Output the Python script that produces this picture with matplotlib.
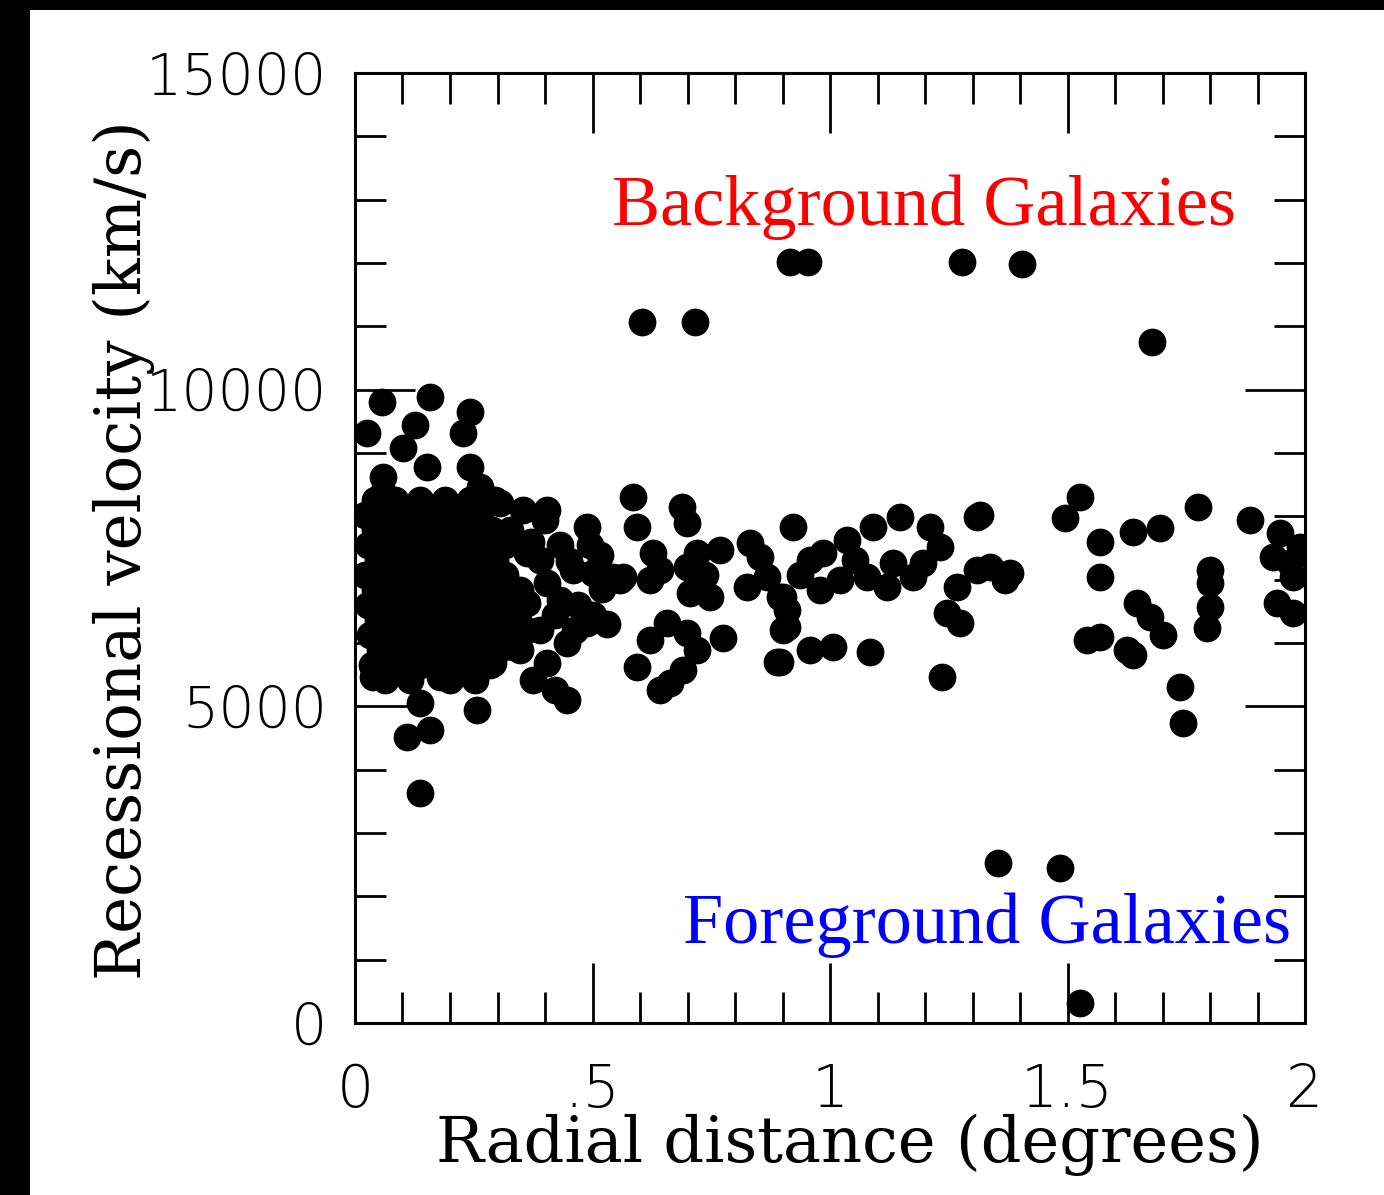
import matplotlib
matplotlib.use("Agg")
import matplotlib.pyplot as plt
from matplotlib.patches import Rectangle
import numpy as np

# ---- data: (radial distance [deg], recessional velocity [km/s]) ----
core = [
    (0.042, 8260), (0.084, 8260), (0.137, 8260), (0.189, 8260), (0.242, 8260), (0.295, 8260),
    (0.021, 8020), (0.063, 8020), (0.116, 8020), (0.162, 8020), (0.217, 8020), (0.263, 8020),
    (0.042, 7780), (0.091, 7780), (0.137, 7780), (0.189, 7780), (0.242, 7780), (0.288, 7780),
    (0.027, 7550), (0.069, 7550), (0.116, 7550), (0.168, 7550), (0.217, 7550), (0.267, 7550), (0.316, 7550),
    (0.048, 7310), (0.095, 7310), (0.141, 7310), (0.196, 7310), (0.242, 7310), (0.295, 7310),
    (0.021, 7070), (0.069, 7070), (0.116, 7070), (0.164, 7070), (0.217, 7070), (0.263, 7070), (0.316, 7070),
    (0.042, 6840), (0.091, 6840), (0.137, 6840), (0.189, 6840), (0.238, 6840), (0.284, 6840), (0.337, 6840),
    (0.027, 6600), (0.074, 6600), (0.120, 6600), (0.168, 6600), (0.221, 6600), (0.267, 6600), (0.316, 6600),
    (0.048, 6360), (0.095, 6360), (0.147, 6360), (0.196, 6360), (0.242, 6360), (0.295, 6360), (0.343, 6360),
    (0.032, 6130), (0.078, 6130), (0.126, 6130), (0.175, 6130), (0.225, 6130), (0.274, 6130), (0.322, 6130),
    (0.053, 5890), (0.099, 5890), (0.147, 5890), (0.200, 5890), (0.253, 5890), (0.301, 5890),
    (0.036, 5650), (0.084, 5650), (0.137, 5650), (0.189, 5650), (0.238, 5650), (0.284, 5650),
    (0.063, 5420), (0.116, 5420), (0.200, 5420), (0.253, 5420),
]

inner = [
    (0.057, 9805), (0.158, 9884), (0.025, 9316), (0.126, 9442), (0.242, 9648),
    (0.227, 9316), (0.101, 9079), (0.059, 8621), (0.152, 8779), (0.242, 8779),
    (0.263, 8463), (0.059, 8369),
    (0.305, 8211), (0.354, 8100), (0.404, 8100), (0.400, 7942), (0.488, 7832),
    (0.543, 7042), (0.585, 8305), (0.594, 7832), (0.459, 7153), (0.362, 7421),
    (0.404, 6948), (0.362, 6632), (0.326, 7784), (0.432, 7548), (0.516, 7390),
    (0.495, 7548), (0.316, 6995), (0.347, 6837), (0.389, 7311), (0.432, 6679),
    (0.558, 6995), (0.305, 6363),
    (0.370, 7600), (0.450, 7300), (0.500, 7100), (0.520, 6850), (0.470, 6600),
    (0.420, 6450), (0.360, 6200), (0.330, 6500), (0.500, 6450), (0.530, 6300),
    (0.488, 6316), (0.446, 6000), (0.404, 5684), (0.375, 5416), (0.446, 5100),
    (0.333, 5937), (0.421, 5258), (0.347, 5890), (0.291, 5684), (0.389, 6206),
    (0.463, 6206),
    (0.257, 4942), (0.137, 5053), (0.109, 4516), (0.158, 4626), (0.137, 3632),
    (0.038, 5463), (0.095, 5684), (0.179, 5463), (0.221, 5574),
]

middle = [
    (0.688, 8147), (0.699, 7895), (0.564, 7042), (0.627, 7421), (0.621, 6995),
    (0.699, 7200), (0.720, 7421), (0.747, 6726), (0.705, 6790), (0.768, 7469),
    (0.832, 7579), (0.853, 7358), (0.825, 6884), (0.867, 7042), (0.895, 6726),
    (0.909, 6521), (0.901, 6206), (0.922, 7832), (0.775, 6079), (0.888, 5700),
    (0.657, 6316), (0.699, 6158), (0.621, 6048), (0.720, 5890), (0.594, 5621),
    (0.663, 5369), (0.642, 5258), (0.691, 5574), (0.642, 7153), (0.737, 7074),
    (0.985, 7421), (1.036, 7626), (1.091, 7832), (1.147, 7990), (1.211, 7832),
    (1.232, 7516), (1.196, 7263), (1.133, 7263), (1.078, 7042), (1.021, 6995),
    (1.267, 6884), (1.175, 7042), (1.120, 6884), (1.246, 6474), (1.274, 6316),
    (1.309, 7990), (1.309, 7153), (1.084, 5858), (1.236, 5463), (1.006, 5937),
    (0.958, 5890), (0.895, 5700), (0.909, 6253), (0.901, 6726), (0.958, 7311),
    (0.937, 7074), (1.053, 7311), (0.979, 6837),
]

outer = [
    (1.316, 8021), (1.526, 8305), (1.495, 7974), (1.568, 7595), (1.638, 7753),
    (1.695, 7816), (1.775, 8147), (1.884, 7942), (1.947, 7737), (1.933, 7358),
    (1.968, 7263), (1.989, 7516), (1.975, 7042), (1.941, 6632), (1.975, 6474),
    (1.337, 7200), (1.379, 7105), (1.368, 6995), (1.568, 7042), (1.646, 6632),
    (1.674, 6411), (1.701, 6127), (1.541, 6048), (1.625, 5890), (1.638, 5811),
    (1.800, 7153), (1.800, 6948), (1.800, 6569), (1.794, 6237), (1.737, 5305),
    (1.743, 4737), (1.568, 6095),
]

background = [
    (0.604, 11069), (0.716, 11069), (0.916, 12016), (0.954, 12016),
    (1.278, 12016), (1.404, 11984), (1.678, 10753),
]

foreground = [(1.354, 2526), (1.484, 2447), (1.526, 316)]

x_ticks = [0, 0.5, 1, 1.5, 2]
x_ticklabels = ["0", ".5", "1", "1.5", "2"]
y_ticks = [0, 5000, 10000, 15000]
y_ticklabels = ["0", "5000", "10000", "15000"]

# ---- figure ----
W, H, DPI = 1384, 1195, 100
fig = plt.figure(figsize=(W / DPI, H / DPI), dpi=DPI, facecolor="white")
ax = fig.add_axes([355 / W, 1 - 1023 / H, 950 / W, 950 / H])

for group in (core, inner, middle, outer, background, foreground):
    gx, gv = zip(*group)
    ax.scatter(gx, gv, s=400, c="black", marker="o", linewidths=0, zorder=3)

ax.set_xlim(0, 2)
ax.set_ylim(0, 15000)

ax.set_xticks(x_ticks)
ax.set_xticklabels(x_ticklabels)
ax.set_yticks(y_ticks)
ax.set_yticklabels(y_ticklabels)
ax.set_xticks(np.arange(0, 2.01, 0.1), minor=True)
ax.set_yticks(np.arange(0, 15001, 1000), minor=True)

ax.tick_params(which="both", direction="in", top=True, right=True, width=2, color="black")
ax.tick_params(which="major", length=43)
ax.tick_params(which="minor", length=22)
ax.tick_params(axis="x", which="major", pad=28, labelsize=42)
ax.tick_params(axis="y", which="major", pad=20, labelsize=41)
for lbl in ax.get_xticklabels() + ax.get_yticklabels():
    lbl.set_fontfamily("DejaVu Sans")
    lbl.set_fontweight("light")

for sp in ax.spines.values():
    sp.set_linewidth(2.2)

ax.text(1.198, 12885, "Background Galaxies", color="#ff0000", fontsize=52,
        family="Liberation Serif", ha="center", va="center", zorder=4)
ax.text(1.331, 1547, "Foreground Galaxies", color="#0000ff", fontsize=52,
        family="Liberation Serif", ha="center", va="center", zorder=4)

fig.text(850 / W, 1 - 1145 / H, "Radial distance (degrees)", fontsize=46,
         family="DejaVu Serif", ha="center", va="center")
fig.text(124 / W, 1 - 550 / H, "Recessional velocity (km/s)", fontsize=45,
         family="DejaVu Serif", ha="center", va="center", rotation=90)

# black frame strips (left and top)
fig.patches.append(Rectangle((0, 0), 30 / W, 1, transform=fig.transFigure,
                             facecolor="black", edgecolor="none", zorder=10))
fig.patches.append(Rectangle((0, 1 - 10 / H), 1, 10 / H, transform=fig.transFigure,
                             facecolor="black", edgecolor="none", zorder=10))

fig.savefig("out.png", dpi=DPI, facecolor="white")
